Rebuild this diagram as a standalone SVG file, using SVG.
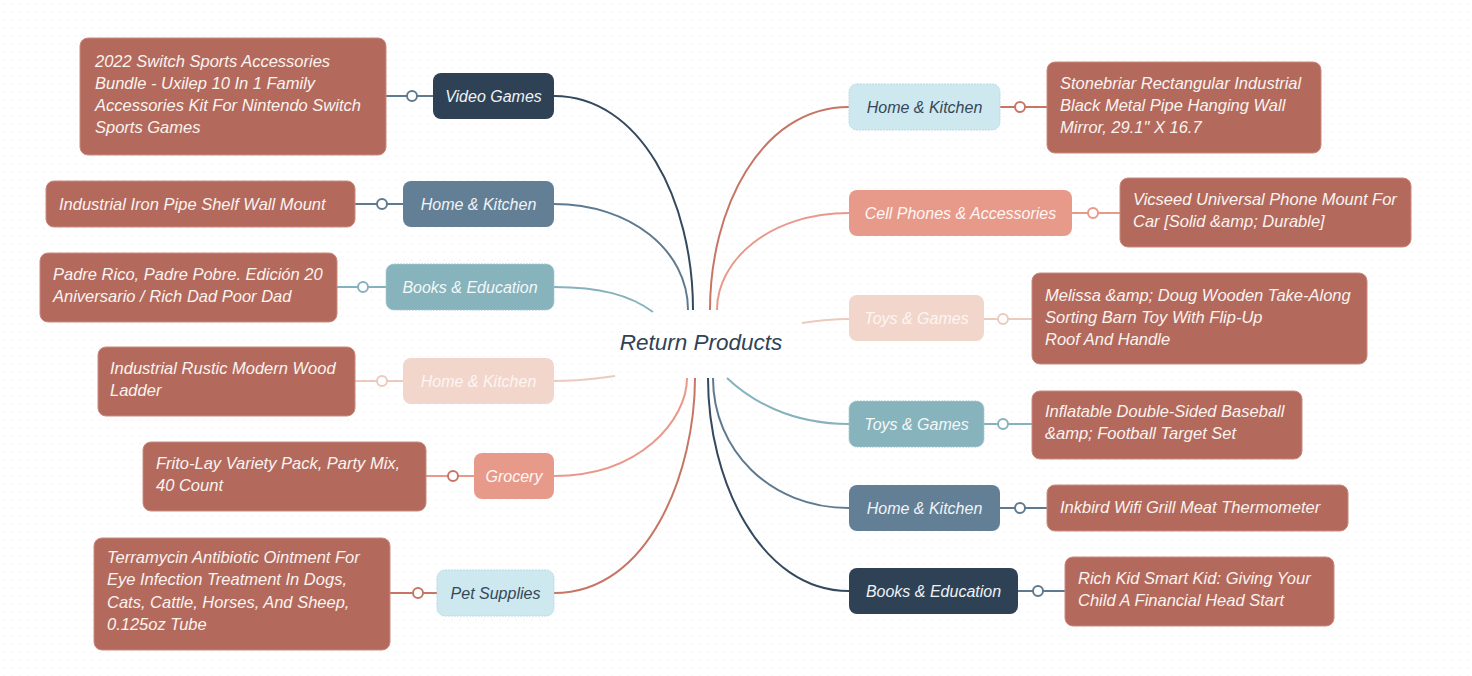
<svg xmlns="http://www.w3.org/2000/svg" width="1472" height="676" viewBox="0 0 1472 676">
<defs>
<pattern id="dots" width="8" height="8" patternUnits="userSpaceOnUse"><circle cx="4" cy="4" r="0.7" fill="#e9ecef"/></pattern>
<style>
text{font-family:"Liberation Sans","DejaVu Sans",sans-serif;font-style:italic;}
.leaf rect{fill:#b36a5d;stroke:#c98a7e;stroke-width:1;}
.leaf text{fill:#fbf3ef;font-size:16.5px;}
.cat text{font-size:16px;text-anchor:middle;}
.navy rect{fill:#2f4255;} .navy text{fill:#eef2f5;}
.slate rect{fill:#627f95;} .slate text{fill:#f1f4f6;}
.teal rect{fill:#87b3bd;stroke:#a9cad1;stroke-dasharray:2 1;} .teal text{fill:#f3f8f9;}
.pink rect{fill:#f2d6cc;} .pink text{fill:#fdf5f1;}
.salmon rect{fill:#e89a8a;} .salmon text{fill:#fff6f3;}
.lblue rect{fill:#cde8ee;stroke:#b7dbe3;stroke-dasharray:2 1;} .lblue text{fill:#36475a;}
#connectors path{fill:none;stroke-width:2;}
#connectors circle{fill:#ffffff;stroke-width:2;}
.c-navy{stroke:#34495e;} .c-slate{stroke:#5e7a90;} .c-teal{stroke:#86b2bd;} .c-pink{stroke:#eccabe;} .c-salmon{stroke:#e8998a;} .c-red{stroke:#c77565;}
</style>
</defs>
<rect width="1472" height="676" fill="#ffffff"/>
<rect width="1472" height="676" fill="url(#dots)"/>

<g id="connectors">
<path class="c-navy" d="M554,96 C640,96 693,200 693,310"/>
<path class="c-slate" d="M554,204 C630,204 688,250 688,310"/>
<path class="c-teal" d="M554,287 C600,287 630,295 653,312"/>
<path class="c-pink" d="M554,381 C580,381 598,378 615,376"/>
<path class="c-salmon" d="M554,476 C640,476 687,420 687,378"/>
<path class="c-red" d="M554,593 C650,593 695,470 695,378"/>
<path class="c-red" d="M849,107 C760,107 710,210 710,310"/>
<path class="c-salmon" d="M849,213 C770,213 717,260 717,310"/>
<path class="c-pink" d="M849,319 C830,319 815,321 802,323"/>
<path class="c-teal" d="M849,424 C790,424 750,400 727,378"/>
<path class="c-slate" d="M849,508 C770,508 713,450 713,378"/>
<path class="c-navy" d="M849,591 C760,591 708,480 708,378"/>
<path class="c-slate" d="M386,96 H433"/><circle class="c-slate" cx="412" cy="96" r="5"/>
<path class="c-slate" d="M355,204 H403"/><circle class="c-slate" cx="382" cy="204" r="5"/>
<path class="c-teal" d="M337,287 H386"/><circle class="c-teal" cx="363" cy="287" r="5"/>
<path class="c-pink" d="M355,381 H403"/><circle class="c-pink" cx="382" cy="381" r="5"/>
<path class="c-salmon" d="M426,476 H474"/><circle class="c-red" cx="453" cy="476" r="5"/>
<path class="c-red" d="M390,593 H437"/><circle class="c-red" cx="418" cy="593" r="5"/>
<path class="c-red" d="M1000,107 H1047"/><circle class="c-red" cx="1020" cy="107" r="5"/>
<path class="c-salmon" d="M1072,213 H1120"/><circle class="c-salmon" cx="1093" cy="213" r="5"/>
<path class="c-pink" d="M984,319 H1032"/><circle class="c-pink" cx="1003" cy="319" r="5"/>
<path class="c-teal" d="M984,424 H1032"/><circle class="c-teal" cx="1003" cy="424" r="5"/>
<path class="c-slate" d="M1000,508 H1047"/><circle class="c-slate" cx="1020" cy="508" r="5"/>
<path class="c-slate" d="M1018,591 H1065"/><circle class="c-slate" cx="1038" cy="591" r="5"/>
</g>

<g id="center"><text x="701" y="350" text-anchor="middle" font-size="22.5" fill="#2f4356">Return Products</text></g>

<g id="cat-l1" class="cat navy"><rect x="433" y="73" width="121" height="46" rx="8"/><text x="493.5" y="101.5">Video Games</text></g>
<g id="cat-l2" class="cat slate"><rect x="403" y="181" width="151" height="46" rx="8"/><text x="478.5" y="209.5">Home &amp; Kitchen</text></g>
<g id="cat-l3" class="cat teal"><rect x="386" y="264" width="168" height="46" rx="8"/><text x="470" y="292.5">Books &amp; Education</text></g>
<g id="cat-l4" class="cat pink"><rect x="403" y="358" width="151" height="46" rx="8"/><text x="478.5" y="386.5">Home &amp; Kitchen</text></g>
<g id="cat-l5" class="cat salmon"><rect x="474" y="453" width="80" height="46" rx="8"/><text x="514" y="481.5">Grocery</text></g>
<g id="cat-l6" class="cat lblue"><rect x="437" y="570" width="117" height="46" rx="8"/><text x="495.5" y="598.5">Pet Supplies</text></g>

<g id="leaf-l1" class="leaf"><rect x="80" y="38" width="306" height="117" rx="8"/>
<text x="95" y="67">2022 Switch Sports Accessories</text><text x="95" y="89">Bundle - Uxilep 10 In 1 Family</text><text x="95" y="111">Accessories Kit For Nintendo Switch</text><text x="95" y="133">Sports Games</text></g>
<g id="leaf-l2" class="leaf"><rect x="46" y="181" width="309" height="46" rx="8"/>
<text x="59" y="209.5">Industrial Iron Pipe Shelf Wall Mount</text></g>
<g id="leaf-l3" class="leaf"><rect x="40" y="253" width="297" height="69" rx="8"/>
<text x="53" y="280">Padre Rico, Padre Pobre. Edición 20</text><text x="53" y="302">Aniversario / Rich Dad Poor Dad</text></g>
<g id="leaf-l4" class="leaf"><rect x="98" y="347" width="257" height="69" rx="8"/>
<text x="110" y="374">Industrial Rustic Modern Wood</text><text x="110" y="396">Ladder</text></g>
<g id="leaf-l5" class="leaf"><rect x="143" y="442" width="283" height="69" rx="8"/>
<text x="156" y="469">Frito-Lay Variety Pack, Party Mix,</text><text x="156" y="491">40 Count</text></g>
<g id="leaf-l6" class="leaf"><rect x="94" y="538" width="296" height="112" rx="8"/>
<text x="107" y="563">Terramycin Antibiotic Ointment For</text><text x="107" y="585">Eye Infection Treatment In Dogs,</text><text x="107" y="608">Cats, Cattle, Horses, And Sheep,</text><text x="107" y="630">0.125oz Tube</text></g>

<g id="cat-r1" class="cat lblue"><rect x="849" y="84" width="151" height="46" rx="8"/><text x="924.5" y="112.5">Home &amp; Kitchen</text></g>
<g id="cat-r2" class="cat salmon"><rect x="849" y="190" width="223" height="46" rx="8"/><text x="960.5" y="218.5">Cell Phones &amp; Accessories</text></g>
<g id="cat-r3" class="cat pink"><rect x="849" y="295" width="135" height="46" rx="8"/><text x="916.5" y="323.5">Toys &amp; Games</text></g>
<g id="cat-r4" class="cat teal"><rect x="849" y="401" width="135" height="46" rx="8"/><text x="916.5" y="429.5">Toys &amp; Games</text></g>
<g id="cat-r5" class="cat slate"><rect x="849" y="485" width="151" height="46" rx="8"/><text x="924.5" y="513.5">Home &amp; Kitchen</text></g>
<g id="cat-r6" class="cat navy"><rect x="849" y="568" width="169" height="46" rx="8"/><text x="933.5" y="596.5">Books &amp; Education</text></g>

<g id="leaf-r1" class="leaf"><rect x="1047" y="62" width="274" height="91" rx="8"/>
<text x="1060" y="89">Stonebriar Rectangular Industrial</text><text x="1060" y="111">Black Metal Pipe Hanging Wall</text><text x="1060" y="133">Mirror, 29.1" X 16.7</text></g>
<g id="leaf-r2" class="leaf"><rect x="1120" y="178" width="291" height="69" rx="8"/>
<text x="1133" y="205">Vicseed Universal Phone Mount For</text><text x="1133" y="227">Car [Solid &amp;amp; Durable]</text></g>
<g id="leaf-r3" class="leaf"><rect x="1032" y="273" width="335" height="91" rx="8"/>
<text x="1045" y="301">Melissa &amp;amp; Doug Wooden Take-Along</text><text x="1045" y="323">Sorting Barn Toy With Flip-Up</text><text x="1045" y="345">Roof And Handle</text></g>
<g id="leaf-r4" class="leaf"><rect x="1032" y="391" width="270" height="68" rx="8"/>
<text x="1045" y="417">Inflatable Double-Sided Baseball</text><text x="1045" y="439">&amp;amp; Football Target Set</text></g>
<g id="leaf-r5" class="leaf"><rect x="1047" y="485" width="301" height="46" rx="8"/>
<text x="1060" y="512.5">Inkbird Wifi Grill Meat Thermometer</text></g>
<g id="leaf-r6" class="leaf"><rect x="1065" y="557" width="269" height="69" rx="8"/>
<text x="1078" y="584">Rich Kid Smart Kid: Giving Your</text><text x="1078" y="606">Child A Financial Head Start</text></g>
</svg>
